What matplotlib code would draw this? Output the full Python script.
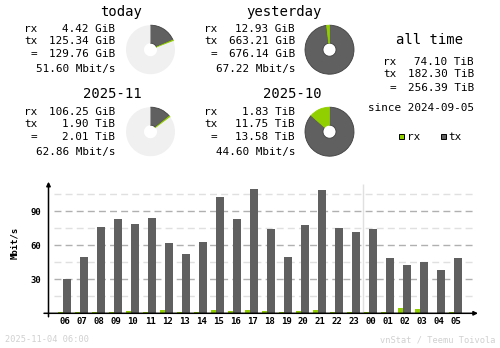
import numpy as np
import matplotlib
matplotlib.use("Agg")
import matplotlib.pyplot as plt
from matplotlib.patches import Rectangle

# vnstat style colours
rx_color = '#92CF00'
tx_color = '#606060'
free_color = '#F0F0F0'
edge_color = '#404040'
line_dark = '#B0B0B0'
line_light = '#E0E0E0'
foot_color = '#D0D0D0'
mono = 'DejaVu Sans Mono'
fs_data = 7.9
fs_title = 10

# summary values
today_rx, today_tx, today_total = 4.42, 125.34, 129.76          # GiB
yday_rx, yday_tx, yday_total = 12.93, 663.21, 676.14            # GiB
month_rx, month_tx, month_total = 106.25 / 1024, 1.90, 2.01     # TiB
prev_rx, prev_tx, prev_total = 1.83, 11.75, 13.58               # TiB

today_rows = ['4.42 GiB', '125.34 GiB', '129.76 GiB', '51.60 Mbit/s']
yday_rows = ['12.93 GiB', '663.21 GiB', '676.14 GiB', '67.22 Mbit/s']
month_rows = ['106.25 GiB', '1.90 TiB', '2.01 TiB', '62.86 Mbit/s']
prev_rows = ['1.83 TiB', '11.75 TiB', '13.58 TiB', '44.60 Mbit/s']
alltime_rows = ['74.10 TiB', '182.30 TiB', '256.39 TiB']

# hourly averages, Mbit/s
hours = ['06', '07', '08', '09', '10', '11', '12', '13', '14', '15', '16', '17',
         '18', '19', '20', '21', '22', '23', '00', '01', '02', '03', '04', '05']
tx_mbit = [30.3, 49.7, 76.2, 83.2, 78.8, 84.1, 62.0, 52.3, 62.9, 102.6, 83.2, 109.7,
           74.4, 49.7, 77.9, 108.8, 75.3, 71.7, 74.4, 48.8, 42.6, 45.3, 38.2, 48.8]
rx_mbit = [0.9, 0.9, 0.9, 0.9, 1.8, 0.9, 2.6, 0.9, 0.9, 2.6, 1.8, 2.6,
           1.8, 0.9, 1.8, 2.6, 0.9, 0.9, 0.9, 0.9, 4.4, 3.5, 0.0, 0.9]

W, H = 500, 348
fig = plt.figure(figsize=(W / 100, H / 100), dpi=100)

# ---- summary area, drawn in pixel coordinates ----
top = fig.add_axes([0, 0, 1, 1])


def py(y):
    return H - y


def donut(cx, cy, tx, rx, rest):
    vals = [tx, rx, rest]
    wedges, _ = top.pie(vals, colors=[tx_color, rx_color, free_color],
                        startangle=90, counterclock=False, radius=24.5,
                        center=(cx, py(cy)), frame=True,
                        wedgeprops=dict(width=18, linewidth=0.6))
    wedges[0].set_edgecolor(edge_color)
    wedges[1].set_edgecolor(rx_color)
    wedges[2].set_edgecolor('none')


def block(title, title_right, lab_right, val_right, ys, rows):
    top.text(title_right, py(ys[0]), title, ha='right', va='center',
             family=mono, fontsize=fs_title)
    for lab, y, val in zip(['rx', 'tx', '='], ys[1:4], rows[:3]):
        top.text(lab_right, py(y), lab, ha='right', va='center', family=mono, fontsize=fs_data)
        top.text(val_right, py(y), val, ha='right', va='center', family=mono, fontsize=fs_data)
    top.text(val_right, py(ys[4]), rows[3], ha='right', va='center', family=mono, fontsize=fs_data)


ys_top = [12, 29, 41.3, 54.3, 68.7]
ys_bot = [94.3, 111.7, 124, 137.3, 152.3]
block('today', 142, 37.5, 115, ys_top, today_rows)
block('yesterday', 321.5, 217.5, 295, ys_top, yday_rows)
block('2025-11', 142, 37.5, 115, ys_bot, month_rows)
block('2025-10', 321.5, 217.5, 295, ys_bot, prev_rows)

# today against yesterday, this month against last month
donut(150.5, 49.7, today_tx, today_rx, max(yday_total, today_total) - today_total)
donut(329.5, 49.7, yday_tx, yday_rx, 0)
donut(150.5, 131.7, month_tx, month_rx, max(prev_total, month_total) - month_total)
donut(329.5, 131.7, prev_tx, prev_rx, 0)

top.text(429, py(39.5), 'all time', ha='center', va='center', family=mono, fontsize=fs_title)
for lab, y, val in zip(['rx', 'tx', '='], [62, 73.7, 87.7], alltime_rows):
    top.text(396.5, py(y), lab, ha='right', va='center', family=mono, fontsize=fs_data)
    top.text(474, py(y), val, ha='right', va='center', family=mono, fontsize=fs_data)
top.text(474, py(108), 'since 2024-09-05', ha='right', va='center', family=mono, fontsize=fs_data)

# legend swatches
for x0, col, lab in [(399, rx_color, 'rx'), (440.5, tx_color, 'tx')]:
    top.add_patch(Rectangle((x0, py(139.2)), 5, 5, facecolor=col,
                            edgecolor='black', linewidth=0.7))
    top.text(x0 + 8, py(136.5), lab, ha='left', va='center', family=mono, fontsize=fs_data)

top.set_xlim(0, W)
top.set_ylim(0, H)
top.set_aspect('auto')
top.axis('off')

# ---- hourly bar chart ----
x0_px, x1_px = 48.5, 478
y0_px, y1_px = 313.3, 181.7
slot, lab0 = 17.0, 65.0
px_per = 34 / 30.0
xlo = (x0_px - lab0) / slot
xhi = (x1_px - lab0) / slot
yhi = (y0_px - y1_px) / px_per

ax = fig.add_axes([x0_px / W, (H - y0_px) / H, (x1_px - x0_px) / W, (y0_px - y1_px) / H])
ax.set_xlim(xlo, xhi)
ax.set_ylim(0, yhi)
for s in ax.spines.values():
    s.set_visible(False)

grid_l = (54 - lab0) / slot
grid_r = (472.7 - lab0) / slot
ax.hlines([15, 45, 75, 105], grid_l, grid_r, colors=line_light, linewidth=1,
          linestyles=(0, (5, 3)), zorder=1)
ax.hlines([30, 60, 90], grid_l, grid_r, colors=line_dark, linewidth=1,
          linestyles=(0, (5, 3)), zorder=1)
ax.vlines(17.5, 0, 114, colors=line_light, linewidth=1, zorder=1)

x = np.arange(len(hours))
ax.bar(x - 4.5 / slot, rx_mbit, width=5 / slot, color=rx_color, linewidth=0, zorder=2)
ax.bar(x + 2 / slot, tx_mbit, width=8 / slot, color=tx_color, linewidth=0, zorder=2)

# axis lines with arrow heads
ax.annotate('', xy=(xhi, 0), xytext=((44 - lab0) / slot, 0),
            arrowprops=dict(arrowstyle='-|>', color='black', lw=1.1,
                            mutation_scale=6, shrinkA=0, shrinkB=0),
            annotation_clip=False, zorder=3)
ax.annotate('', xy=(xlo, yhi), xytext=(xlo, -3.5 / px_per),
            arrowprops=dict(arrowstyle='-|>', color='black', lw=1.1,
                            mutation_scale=6, shrinkA=0, shrinkB=0),
            annotation_clip=False, zorder=3)

ax.set_xticks(x)
ax.set_xticklabels(hours)
ax.set_yticks([30, 60, 90])
ax.set_yticklabels(['30', '60', '90'])
ax.tick_params(axis='x', length=0, pad=3)
ax.tick_params(axis='y', length=0, pad=5)
for t in ax.get_xticklabels() + ax.get_yticklabels():
    t.set_family(mono)
    t.set_fontsize(6.5)
    t.set_fontweight('bold')

fig.text(14.3 / W, 1 - 243 / H, 'Mbit/s', rotation=90, ha='center', va='center',
         family=mono, fontsize=6.5, fontweight='bold')

fig.text(5 / W, 1 - 340 / H, '2025-11-04 06:00', ha='left', va='center',
         family=mono, fontsize=6.2, color=foot_color)
fig.text(495 / W, 1 - 340 / H, 'vnStat / Teemu Toivola', ha='right', va='center',
         family=mono, fontsize=6.2, color=foot_color)

fig.savefig('out.png', dpi=100)
